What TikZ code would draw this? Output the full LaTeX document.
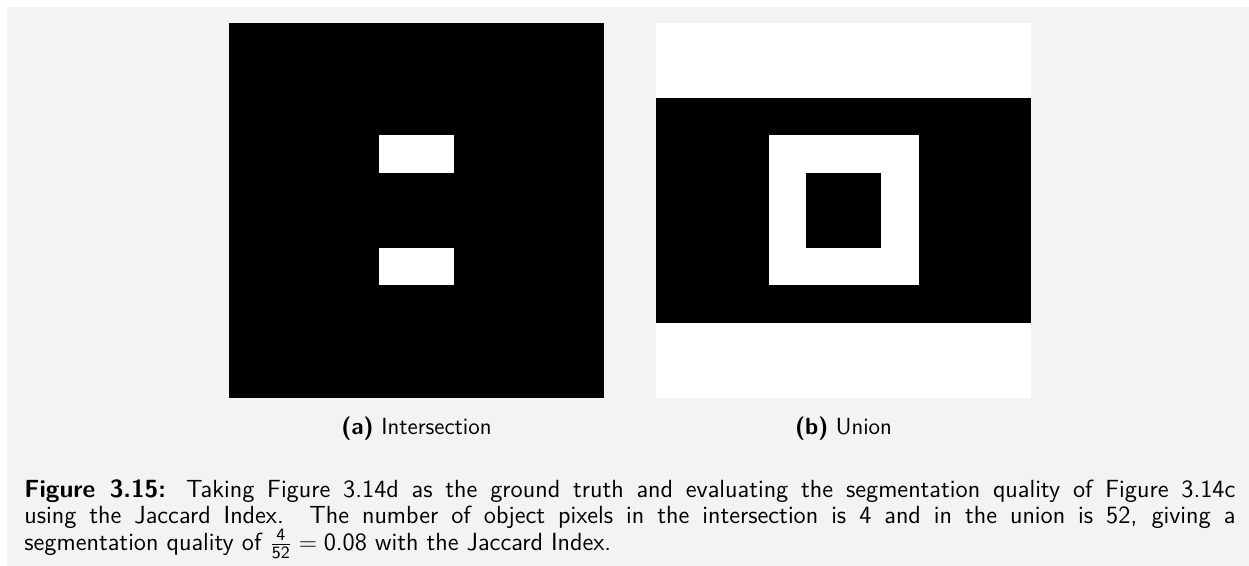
\documentclass[tikz,border=0pt]{standalone}
\usepackage{amsmath}
\usepackage{fontspec}
\renewcommand\familydefault{\sfdefault}
\definecolor{bg}{HTML}{F3F3F3}
\tikzset{
  captext/.style={font=\fontsize{11.7}{13.25}\selectfont, inner sep=0pt},
  maintext/.style={font=\fontsize{12.4}{13.3}\selectfont, inner sep=0pt},
  blk/.style={fill=black},
  wht/.style={fill=white}
}
\begin{document}
\begin{tikzpicture}[x=0.5pt,y=-0.5pt]
\useasboundingbox (0,0) rectangle (1249,566);
\fill[bg] (7,7) rectangle (1249,566);
% (a) Intersection
\fill[blk] (229,23) rectangle (604,398);
\fill[wht] (379,135.5) rectangle (454,173);
\fill[wht] (379,248) rectangle (454,285.5);
% (b) Union
\fill[wht] (656,23) rectangle (1031,398);
\fill[blk] (656,98) rectangle (1031,323);
\fill[wht] (768.5,135.5) rectangle (918.5,285.5);
\fill[blk] (806,173) rectangle (881,248);
% subcaptions
\node[captext, anchor=base] (capa) at (416.5,435) {\textbf{(a)} Intersection};
\node[captext, anchor=base] (capb) at (843.5,435) {\textbf{(b)} Union};
% main caption
\node[maintext, anchor=north west, text width=605.5pt, align=justify] (maincap) at (24,479)
{\textbf{Figure 3.15:} Taking Figure 3.14d as the ground truth and evaluating the segmentation quality of Figure 3.14c\linebreak
using the Jaccard Index. The number of object pixels in the intersection is 4 and in the union is 52, giving a\linebreak
segmentation quality of $\frac{\text{4}}{\text{52}} = \text{0.08}$ with the Jaccard Index.};
\end{tikzpicture}
\end{document}
